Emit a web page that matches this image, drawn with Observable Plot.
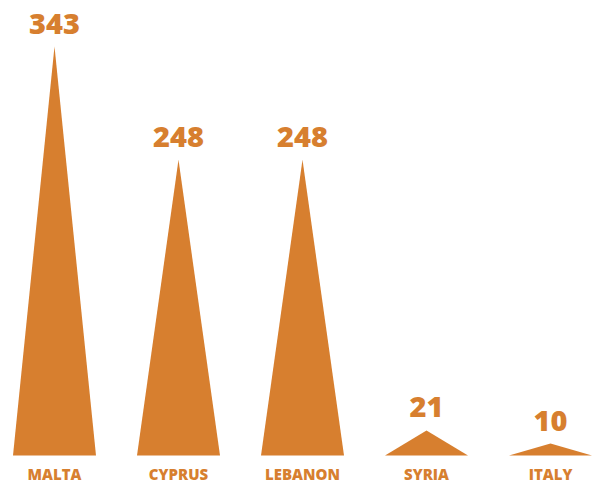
<!DOCTYPE html>
<html>
<head>
<meta charset="utf-8">
<script src="https://cdn.jsdelivr.net/npm/d3@7"></script>
<script src="https://cdn.jsdelivr.net/npm/@observablehq/plot@0.6"></script>
<style>
  html, body { margin: 0; padding: 0; background: #fff; }
  #chart svg { display: block; }
</style>
</head>
<body>
<div id="chart"></div>
<script>
const countries = ["MALTA", "CYPRUS", "LEBANON", "SYRIA", "ITALY"];
const values = [343, 248, 248, 21, 10];
const color = "#D77F2F";

const data = countries.map((c, i) => ({country: c, value: values[i]}));

const chart = Plot.plot({
  width: 592,
  height: 486,
  marginTop: 0,
  marginBottom: 31,
  marginLeft: 0,
  marginRight: 0,
  style: {fontFamily: "'Open Sans', sans-serif", background: "#fff"},
  x: {type: "point", domain: countries, range: [54, 550], padding: 0},
  y: {domain: [0, 343], range: [455, 46], axis: null},
  length: {domain: [0, 343], range: [0, 409]},
  marks: [
    Plot.spike(data, {
      x: "country",
      y: () => 0,
      length: "value",
      r: 41.5,
      fill: color,
      fillOpacity: 1,
      stroke: "none"
    }),
    Plot.text(data, {
      x: "country",
      y: "value",
      text: d => String(d.value),
      lineAnchor: "bottom",
      dy: -13,
      fontSize: 29,
      fontWeight: 800,
      fill: color
    }),
    Plot.axisX({
      tickSize: 0,
      tickPadding: 14,
      fontSize: 15,
      fontWeight: 800,
      fill: color,
      label: null
    })
  ]
});
document.getElementById("chart").appendChild(chart);
</script>
</body>
</html>
